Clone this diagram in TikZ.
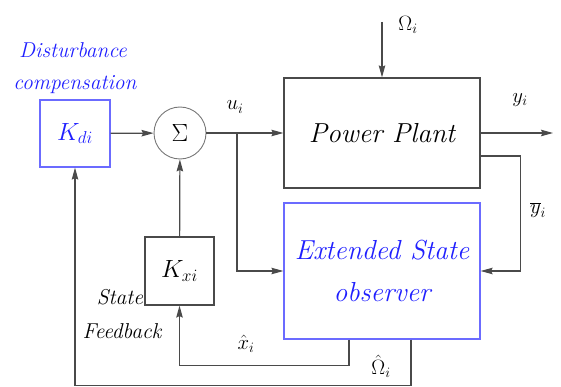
\documentclass[tikz,border=0pt]{standalone}
\usetikzlibrary{arrows.meta}
\definecolor{linegray}{HTML}{4A4A4A}
\definecolor{textblue}{HTML}{1F1FFF}
\definecolor{boxblue}{HTML}{6B6BFF}

\begin{document}
\begin{tikzpicture}[x=1pt,y=-1pt,
  block/.style={draw=linegray,line width=1.2pt,inner sep=0pt},
  blueblock/.style={block,draw=boxblue,text=textblue},
  sumnode/.style={circle,draw=linegray!75,line width=0.9pt,
                  minimum size=52pt,inner sep=0pt},
  arr/.style={-{Stealth[length=12pt,width=6.5pt,inset=1.5pt]},line width=1.2pt,
              draw=linegray},
  lbl/.style={font=\fontsize{21.5}{24}\selectfont\itshape,inner sep=0pt},
  bluelbl/.style={lbl,text=textblue},
  mlbl/.style={font=\fontsize{22}{24}\selectfont,inner sep=0pt}
]
\useasboundingbox (0,0) rectangle (561,387);
% blocks
\node[block,minimum width=196pt,minimum height=110pt,
      font=\fontsize{27.5}{34}\selectfont\itshape] (plant) at (382,133) {Power Plant};
\node[blueblock,minimum width=196pt,minimum height=136pt,align=center,
      font=\fontsize{27.5}{42}\selectfont\itshape] (obs) at (382,271)
  {Extended State\\observer};
\node[blueblock,minimum width=70pt,minimum height=67pt,
      font=\fontsize{27}{30}\selectfont] (kd) at (75,133.5) {$K_{di}$};
\node[sumnode,font=\fontsize{26}{30}\selectfont] (sum) at (180,133) {$\Sigma$};
\node[block,minimum width=69pt,minimum height=68pt,
      font=\fontsize{27}{30}\selectfont] (kx) at (179.5,271) {$K_{xi}$};
\coordinate (dist) at (382,22);
\coordinate (out) at (553,133);
\coordinate (branch) at (237,133);
% signals
\draw[arr] (dist) -- (plant.north);
\draw[arr] (kd) -- (sum);
\draw[arr] (sum) -- (plant);
\draw[arr] (branch) |- (obs.west);
\draw[arr] (kx) -- (sum);
\draw[arr] (plant) -- (out);
\draw[arr] ([yshift=-23pt]plant.east) -- ++(40,0) |- (obs.east);
\draw[arr] ([xshift=-33pt]obs.south) -- ++(0,26) -| (kx.south);
\draw[arr] ([xshift=29pt]obs.south) -- ++(0,46) -| (kd.south);
% labels
\node[bluelbl] (dlbl) at (73,50) {Disturbance};
\node[bluelbl] (clbl) at (75,85) {compensation};
\node[lbl] (slbl) at (120,297) {State};
\node[lbl] (flbl) at (122,331) {Feedback};
\node[mlbl] (ulbl) at (235,107) {$u_i$};
\node[mlbl] (ylbl) at (520,100) {$y_i$};
\node[mlbl] (ybarlbl) at (538,210) {$\overline{y}_i$};
\node[mlbl] (omlbl) at (408,25) {$\Omega_i$};
\node[mlbl] (xhatlbl) at (246,344) {$\hat{x}_i$};
\node[mlbl] (omhatlbl) at (381,366) {$\hat{\Omega}_i$};
\end{tikzpicture}
\end{document}
